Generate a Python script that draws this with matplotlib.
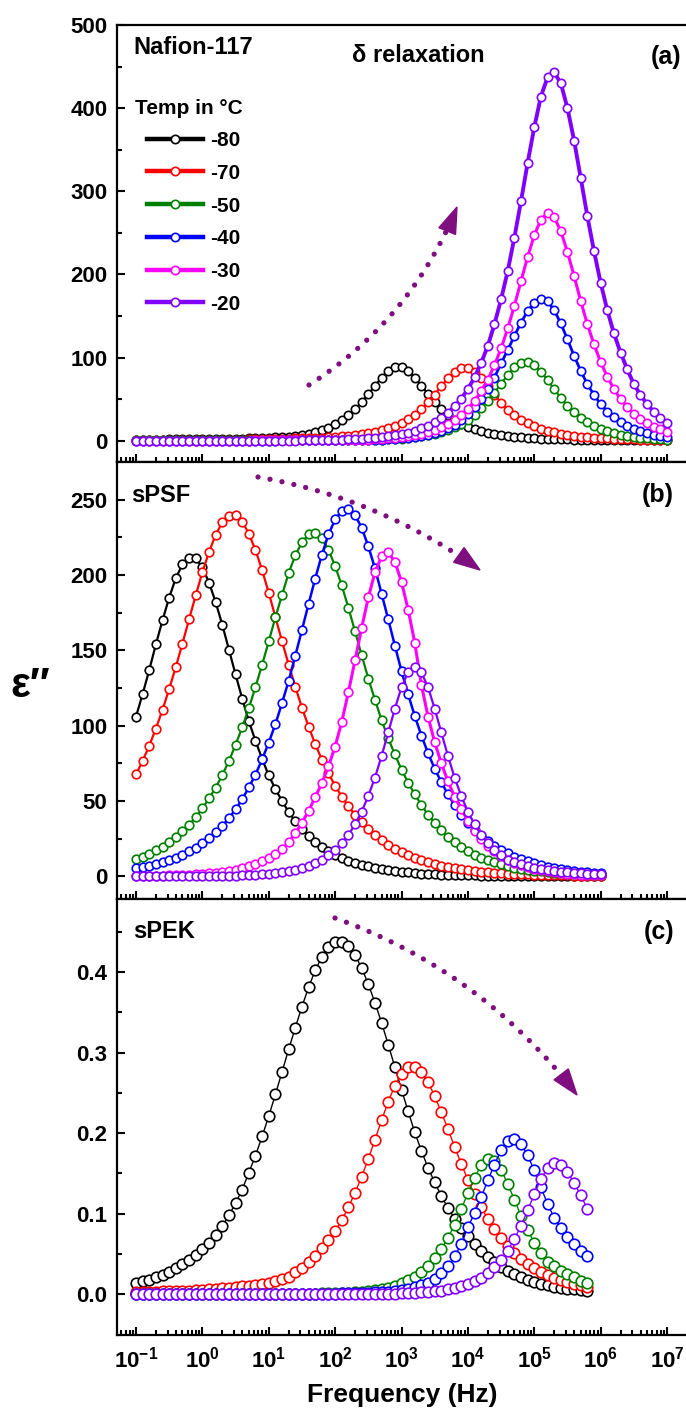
import matplotlib
matplotlib.use('Agg')
import matplotlib.pyplot as plt
import numpy as np
from matplotlib.lines import Line2D
from matplotlib.patches import Polygon
from matplotlib.ticker import MultipleLocator, LogLocator, NullFormatter, FormatStrFormatter

plt.rcParams['font.family'] = ['Liberation Sans', 'DejaVu Sans']
plt.rcParams['font.weight'] = 'bold'
plt.rcParams['mathtext.fontset'] = 'custom'
plt.rcParams['mathtext.rm'] = 'Liberation Sans:bold'
plt.rcParams['mathtext.bf'] = 'Liberation Sans:bold'

temps = ['-80', '-70', '-50', '-40', '-30', '-20']
colors = ['black', '#FF0000', '#008000', '#0000FF', '#FF00FF', '#8000FF']
arrow_color = '#7F0F7F'

# frequency sweeps (10 points per decade)
freq_a = np.logspace(-1, 7, 81)
freq_b = np.logspace(-1, 6, 71)
freq_c = np.logspace(-1, 5.8, 69)

# (a) Nafion-117, eps'' per temperature
nafion_m80 = [1.2, 1.3, 1.3, 1.4, 1.4, 1.5, 1.5, 1.6, 1.7, 1.8,
              1.9, 2.0, 2.1, 2.2, 2.3, 2.5, 2.6, 2.8, 3.0, 3.2,
              3.5, 3.9, 4.4, 5.0, 5.8, 6.8, 8.2, 10.0, 12.5, 15.8,
              19.8, 24.7, 30.7, 37.9, 46.5, 56.1, 66.3, 76.0, 83.9, 88.4,
              88.4, 83.9, 76.0, 66.3, 56.1, 46.5, 37.9, 30.7, 24.7, 20.5,
              17.0, 14.0, 11.5, 9.5, 7.8, 6.5, 5.5, 4.7, 4.0, 3.5,
              3.0, 2.6, 2.3, 2.0, 1.8, 1.6, 1.4, 1.3, 1.2, 1.1,
              1.0, 0.9, 0.9, 0.8, 0.8, 0.7, 0.7, 0.6, 0.6, 0.6, 0.5]
nafion_m70 = [0.4, 0.4, 0.5, 0.5, 0.5, 0.6, 0.6, 0.7, 0.7, 0.8,
              0.8, 0.9, 1.0, 1.1, 1.2, 1.3, 1.4, 1.5, 1.7, 1.9,
              2.0, 2.2, 2.4, 2.6, 2.8, 3.0, 3.2, 3.5, 3.8, 4.2,
              4.7, 5.3, 6.0, 6.8, 7.8, 9.0, 10.5, 12.5, 15.0, 18.0,
              21.5, 26.0, 31.5, 38.0, 46.0, 55.4, 65.6, 75.2, 83.0, 87.4,
              87.4, 83.0, 75.2, 65.6, 55.4, 45.9, 37.5, 31.0, 25.5, 21.0,
              17.5, 14.5, 12.0, 10.0, 8.4, 7.0, 5.9, 5.0, 4.2, 3.6,
              3.1, 2.7, 2.3, 2.0, 1.7, 1.5, 1.3, 1.1, 1.0, 0.9, 0.8]
nafion_m50 = [0.3, 0.3, 0.3, 0.3, 0.3, 0.3, 0.3, 0.3, 0.3, 0.4,
              0.4, 0.4, 0.4, 0.4, 0.5, 0.5, 0.5, 0.5, 0.5, 0.6,
              0.6, 0.6, 0.6, 0.7, 0.7, 0.7, 0.8, 0.8, 0.8, 0.9,
              0.9, 0.9, 1.0, 1.0, 1.0, 1.1, 1.2, 1.4, 1.7, 2.0,
              2.6, 3.2, 4.0, 5.1, 6.4, 8.1, 10.2, 12.8, 16.1, 20.1,
              25.2, 31.4, 38.9, 47.7, 57.8, 68.6, 79.2, 88.2, 93.8, 94.8,
              90.9, 83.1, 72.9, 62.0, 51.6, 42.3, 34.3, 27.6, 22.1, 17.7,
              14.0, 11.2, 8.9, 7.0, 5.6, 4.5, 3.5, 2.8, 2.2, 1.8, 1.4]
nafion_m40 = [0.1, 0.1, 0.1, 0.1, 0.1, 0.1, 0.1, 0.1, 0.1, 0.1,
              0.1, 0.1, 0.1, 0.1, 0.2, 0.2, 0.2, 0.2, 0.2, 0.2,
              0.2, 0.2, 0.3, 0.3, 0.3, 0.3, 0.4, 0.4, 0.4, 0.5,
              0.5, 0.6, 0.6, 0.7, 0.8, 0.9, 1.0, 1.3, 1.7, 2.1,
              2.7, 3.4, 4.3, 5.5, 7.0, 9.0, 11.5, 15.0, 19.5, 25.0,
              32.0, 40.0, 50.0, 62.0, 76.0, 93.0, 109, 126, 142, 156,
              166, 171, 168, 157, 141, 122, 102, 84, 68, 55,
              44, 35, 28, 22.6, 18, 14.2, 11.3, 9.0, 7.1, 5.7, 4.5]
nafion_m30 = [0.1, 0.1, 0.1, 0.1, 0.1, 0.1, 0.1, 0.1, 0.1, 0.1,
              0.1, 0.1, 0.1, 0.2, 0.2, 0.2, 0.2, 0.2, 0.3, 0.3,
              0.3, 0.3, 0.4, 0.4, 0.4, 0.5, 0.5, 0.5, 0.6, 0.6,
              0.6, 0.7, 0.7, 0.9, 1.1, 1.4, 1.8, 2.2, 2.7, 3.4,
              4.3, 5.3, 6.6, 8.3, 10.3, 12.9, 16.1, 20.0, 24.9, 31.0,
              38.6, 48.0, 59.5, 73.4, 90.7, 111, 135, 162, 192, 221,
              247, 266, 274, 269, 252, 227, 198, 168, 140, 116,
              94.5, 77, 62.2, 50.1, 40.3, 32.6, 26.1, 21.0, 16.9, 13.6, 10.9]
nafion_m20 = [0.2, 0.2, 0.2, 0.2, 0.2, 0.2, 0.2, 0.2, 0.2, 0.2,
              0.2, 0.2, 0.2, 0.2, 0.2, 0.2, 0.2, 0.2, 0.2, 0.2,
              0.2, 0.2, 0.2, 0.2, 0.2, 0.3, 0.4, 0.5, 0.6, 0.8,
              1.0, 1.2, 1.5, 1.8, 2.2, 2.8, 3.4, 4.2, 5.2, 6.4,
              7.9, 9.7, 11.9, 14.7, 18.1, 22.2, 27.2, 33.6, 41.2, 50.5,
              62, 76.2, 93.5, 114, 140, 170, 204, 244, 288, 334,
              377, 414, 437, 443, 430, 400, 361, 316, 270, 228,
              190, 157, 129, 106, 86, 68, 55, 44, 35, 27.5, 21.5]

# (b) sPSF
spsf_m80 = [106, 121, 137, 154, 170, 185, 198, 207, 211.6, 211,
            205, 195, 182, 167, 150.5, 134, 118, 103, 90, 78,
            67, 58, 50, 42.8, 36.6, 31.4, 26.9, 23, 19.7, 16.8,
            14.4, 12.3, 10.5, 9.0, 7.7, 6.6, 5.6, 4.8, 4.1, 3.5,
            3.0, 2.6, 2.2, 1.9, 1.6, 1.4, 1.2, 1.0, 0.9, 0.8,
            0.7, 0.6, 0.5, 0.5, 0.4, 0.4, 0.4, 0.3, 0.3, 0.3,
            0.3, 0.2, 0.2, 0.2, 0.2, 0.2, 0.2, 0.2, 0.2, 0.2, 0.2]
spsf_m70 = [67.7, 76.6, 86.8, 98.1, 110.6, 124.4, 139, 154.5, 170.7, 186.5,
            201.8, 215.3, 226.6, 234.9, 239.4, 239.6, 235.5, 227.5, 216.5, 203.3,
            188.2, 172.1, 156, 140.6, 125.8, 112, 99.4, 87.8, 77.5, 68.4,
            60.2, 53, 46.6, 40.8, 35.8, 31.2, 27.4, 23.9, 20.9, 18.4,
            16, 14, 12.3, 10.7, 9.4, 8.2, 7.2, 6.3, 5.5, 4.8,
            4.2, 3.7, 3.2, 2.8, 2.5, 2.2, 1.9, 1.7, 1.5, 1.3,
            1.1, 1.0, 0.9, 0.8, 0.7, 0.6, 0.5, 0.5, 0.4, 0.4, 0.3]
spsf_m50 = [11.4, 13.1, 15, 17.2, 19.8, 22.7, 26, 29.9, 34.3, 39.3,
            45.1, 51.7, 58.9, 67.2, 76.6, 87.3, 98.9, 111.7, 125.6, 140.4,
            156, 171.9, 186.7, 201.3, 213, 221.8, 226.9, 227.8, 224.3, 216.8,
            205.9, 193.1, 178.3, 162.6, 146.8, 131.3, 117.2, 103.7, 91.7, 80.9,
            70.9, 62.2, 54.5, 47.4, 41, 35.5, 30.5, 26.3, 22.7, 19.6,
            16.8, 14.5, 12.5, 10.8, 9.3, 8.0, 6.9, 5.9, 5.1, 4.4,
            3.8, 3.3, 2.8, 2.4, 2.1, 1.8, 1.5, 1.3, 1.1, 1.0, 0.8]
spsf_m40 = [5.3, 6.1, 7.0, 8.1, 9.3, 10.8, 12.4, 14.3, 16.6, 19.1,
            22, 25.4, 29.2, 33.6, 38.6, 44.4, 51.2, 59, 67.6, 77.6,
            88.8, 101, 115, 129.8, 146.4, 163.5, 180.8, 197.6, 213.5, 226.9,
            236.9, 242.8, 243.8, 239.8, 231.3, 219.1, 204.5, 187.6, 170.6, 153.2,
            136.2, 120.8, 106.4, 93.5, 81.7, 71.5, 62.5, 54.4, 47.3, 41,
            35.6, 31, 26.8, 23.3, 20.2, 17.5, 15.2, 13.2, 11.4, 9.9,
            8.6, 7.4, 6.4, 5.6, 4.9, 4.2, 3.7, 3.2, 2.8, 2.4, 2.1]
spsf_m30 = [0.2, 0.3, 0.3, 0.4, 0.5, 0.6, 0.7, 0.9, 1.1, 1.3,
            1.6, 2.0, 2.4, 3.0, 3.6, 4.4, 5.4, 6.6, 8.1, 9.9,
            12.1, 14.8, 18.3, 22.8, 28.5, 35.5, 43.5, 52.5, 62.0, 73.0,
            86.2, 102.6, 122.3, 143.4, 164.9, 185.1, 201.7, 212.3, 215, 208.9,
            195.4, 177, 155, 127, 106, 89, 75, 63, 53, 44.5,
            37, 30.3, 24.9, 20.4, 16.7, 13.7, 11.2, 9.2, 7.5, 6.2,
            5.0, 4.1, 3.4, 2.8, 2.3, 1.9, 1.5, 1.2, 1.0, 0.8, 0.7]
spsf_m20 = [0.1, 0.1, 0.1, 0.1, 0.1, 0.1, 0.1, 0.1, 0.2, 0.2,
            0.2, 0.2, 0.3, 0.35, 0.44, 0.55, 0.7, 0.9, 1.1, 1.4,
            1.75, 2.2, 2.8, 3.5, 4.4, 5.6, 7.0, 8.8, 11.0, 13.9,
            17.5, 22.0, 27.5, 34.5, 43, 53.4, 65.5, 79.9, 95.5, 111.3,
            125.5, 135.4, 139, 135.4, 125.5, 111.3, 95.5, 79.9, 65.5, 53.4,
            43, 34.5, 27.5, 22, 17.5, 13.9, 11.2, 9.5, 8.0, 6.8,
            5.8, 4.9, 4.2, 3.6, 3.1, 2.7, 2.4, 2.1, 1.9, 1.7, 1.5]

# (c) sPEK: no -30 run for this membrane
spek_m80 = [0.014, 0.016, 0.018, 0.021, 0.024, 0.028, 0.032, 0.037, 0.043, 0.049,
            0.056, 0.064, 0.074, 0.085, 0.098, 0.113, 0.130, 0.151, 0.172, 0.196,
            0.221, 0.248, 0.276, 0.304, 0.331, 0.357, 0.381, 0.402, 0.419, 0.431,
            0.437, 0.437, 0.432, 0.421, 0.405, 0.385, 0.362, 0.337, 0.310, 0.282,
            0.254, 0.227, 0.201, 0.178, 0.157, 0.139, 0.122, 0.107, 0.094, 0.082,
            0.072, 0.062, 0.054, 0.046, 0.040, 0.034, 0.029, 0.025, 0.021, 0.018,
            0.015, 0.013, 0.011, 0.0095, 0.008, 0.007, 0.006, 0.005, 0.0045]
spek_m70 = [0.003, 0.003, 0.0032, 0.0034, 0.0036, 0.0038, 0.004, 0.0043, 0.0046, 0.005,
            0.0054, 0.0059, 0.0065, 0.0072, 0.008, 0.0088, 0.0097, 0.0107, 0.0118, 0.013,
            0.0145, 0.0165, 0.019, 0.022, 0.027, 0.033, 0.040, 0.048, 0.057, 0.067,
            0.078, 0.092, 0.108, 0.126, 0.146, 0.168, 0.192, 0.216, 0.239, 0.259,
            0.274, 0.282, 0.282, 0.276, 0.263, 0.246, 0.226, 0.205, 0.183, 0.162,
            0.142, 0.124, 0.108, 0.0937, 0.0807, 0.0696, 0.060, 0.0512, 0.0441, 0.0379,
            0.0325, 0.0279, 0.0239, 0.0205, 0.0175, 0.0151, 0.0129, 0.011, 0.0095]
spek_m50 = [0.0003, 0.0003, 0.0003, 0.0003, 0.0003, 0.0003, 0.0003, 0.0004, 0.0004, 0.0004,
            0.0004, 0.0004, 0.0004, 0.0005, 0.0005, 0.0005, 0.0005, 0.0006, 0.0006, 0.0006,
            0.0006, 0.0007, 0.0007, 0.0007, 0.0008, 0.0008, 0.0008, 0.0009, 0.0010, 0.0011,
            0.0013, 0.0016, 0.002, 0.0025, 0.0032, 0.004, 0.0051, 0.0065, 0.0083, 0.0106,
            0.0134, 0.0171, 0.0218, 0.0276, 0.0351, 0.0444, 0.056, 0.0699, 0.0865, 0.1055,
            0.1258, 0.1448, 0.160, 0.1675, 0.1656, 0.1547, 0.137, 0.1176, 0.0976, 0.0796,
            0.0642, 0.0512, 0.0405, 0.035, 0.029, 0.025, 0.021, 0.017, 0.014]
spek_m40 = [0.0003, 0.0003, 0.0003, 0.0003, 0.0003, 0.0003, 0.0003, 0.0004, 0.0004, 0.0004,
            0.0004, 0.0004, 0.0005, 0.0005, 0.0005, 0.0005, 0.0006, 0.0006, 0.0006, 0.0006,
            0.0006, 0.0006, 0.0007, 0.0007, 0.0007, 0.0007, 0.0008, 0.0008, 0.0008, 0.0008,
            0.0009, 0.001, 0.0011, 0.0013, 0.0015, 0.0018, 0.0022, 0.0027, 0.0033, 0.0041,
            0.0052, 0.0066, 0.0085, 0.011, 0.014, 0.019, 0.026, 0.035, 0.047, 0.062,
            0.0832, 0.1006, 0.1203, 0.1413, 0.161, 0.179, 0.190, 0.1928, 0.1865, 0.1725,
            0.1538, 0.133, 0.1121, 0.095, 0.082, 0.071, 0.062, 0.054, 0.048]
spek_m20 = [0.0001, 0.0001, 0.0001, 0.0001, 0.0001, 0.0001, 0.0001, 0.0001, 0.0001, 0.0001,
            0.0001, 0.0001, 0.0001, 0.0002, 0.0002, 0.0002, 0.0002, 0.0002, 0.0003, 0.0003,
            0.0003, 0.0003, 0.0003, 0.0004, 0.0004, 0.0004, 0.0004, 0.0005, 0.0005, 0.0005,
            0.0005, 0.0006, 0.0006, 0.0006, 0.0007, 0.0007, 0.0007, 0.0008, 0.0008, 0.0009,
            0.001, 0.0013, 0.0017, 0.0022, 0.0028, 0.0036, 0.0046, 0.0059, 0.0076, 0.0098,
            0.0125, 0.016, 0.0205, 0.0262, 0.0336, 0.0429, 0.0543, 0.0683, 0.085, 0.104,
            0.124, 0.1431, 0.157, 0.163, 0.1603, 0.1516, 0.1383, 0.1228, 0.1063]

W, H = 686, 1411
fig = plt.figure(figsize=(W / 100, H / 100), dpi=100)


def make_axes(top, bottom):
    # panel placed in pixel units; right spine sits just past the canvas edge
    return fig.add_axes([117 / W, 1 - bottom / H, 571 / W, (bottom - top) / H])


ax_a = make_axes(25, 462)
ax_b = make_axes(462, 899)
ax_c = make_axes(899, 1335)

c_colors = [colors[i] for i in (0, 1, 2, 3, 5)]
panels = [
    (ax_a, freq_a, [nafion_m80, nafion_m70, nafion_m50, nafion_m40, nafion_m30, nafion_m20],
     colors, [1.5, 1.5, 1.5, 2.0, 2.2, 2.8], 6.0),
    (ax_b, freq_b, [spsf_m80, spsf_m70, spsf_m50, spsf_m40, spsf_m30, spsf_m20],
     colors, [1.6, 1.6, 1.6, 1.8, 2.2, 1.6], 6.2),
    (ax_c, freq_c, [spek_m80, spek_m70, spek_m50, spek_m40, spek_m20],
     c_colors, [1.0] * 5, 7.6),
]

for ax, freq, series, cols, lws, ms in panels:
    for vals, c, lw in zip(series, cols, lws):
        ax.plot(freq, vals, color=c, lw=lw, marker='o', ms=ms, mfc='white',
                mec=c, mew=1.2)
    ax.set_xscale('log')
    ax.set_xlim(10 ** -1.286, 10 ** 7.316)
    ax.xaxis.set_major_locator(LogLocator(base=10, numticks=20))
    ax.xaxis.set_minor_locator(LogLocator(base=10, subs=np.arange(2, 10), numticks=20))
    ax.xaxis.set_minor_formatter(NullFormatter())
    ax.tick_params(which='both', direction='in', top=False, right=False, width=1.5,
                   labelsize=16)
    ax.tick_params(which='major', length=6)
    ax.tick_params(which='minor', length=3.5)
    ax.tick_params(axis='y', pad=7)
    for side in ['left', 'bottom', 'top']:
        ax.spines[side].set_linewidth(1.6)
    ax.spines['right'].set_visible(False)

ax_a.set_ylim(-25.6, 500)
ax_a.yaxis.set_major_locator(MultipleLocator(100))
ax_a.yaxis.set_minor_locator(MultipleLocator(50))
ax_b.set_ylim(-15, 275)
ax_b.yaxis.set_major_locator(MultipleLocator(50))
ax_b.yaxis.set_minor_locator(MultipleLocator(25))
ax_c.set_ylim(-0.0506, 0.4907)
ax_c.yaxis.set_major_locator(MultipleLocator(0.1))
ax_c.yaxis.set_minor_locator(MultipleLocator(0.05))
ax_c.yaxis.set_major_formatter(FormatStrFormatter('%.1f'))

ax_a.tick_params(axis='x', labelbottom=False)
ax_b.tick_params(axis='x', labelbottom=False)
exps = list(range(-1, 8))
ax_c.set_xticks([10.0 ** k for k in exps])
ax_c.set_xticklabels([r'$\mathbf{10^{%d}}$' % k for k in exps])
ax_c.tick_params(axis='x', pad=8)
ax_c.set_xlabel('Frequency (Hz)', fontsize=19, fontweight='bold', labelpad=8)

fig.text(30 / W, 1 - 686 / H, 'ε″', fontsize=30, fontweight='bold',
         ha='center', va='center')


# panel annotations
def px_text(x, y, s, size, ha='left'):
    fig.text(x / W, 1 - y / H, s, fontsize=size, fontweight='bold', ha=ha, va='center')


px_text(133, 47, 'Nafion-117', 17)
px_text(418, 56, 'δ relaxation', 17, ha='center')
px_text(681, 57, '(a)', 18, ha='right')
px_text(131, 495, 'sPSF', 17)
px_text(674, 495, '(b)', 18, ha='right')
px_text(133, 932, 'sPEK', 17)
px_text(674, 932, '(c)', 18, ha='right')
px_text(135, 108, 'Temp in °C', 15)

handles = [Line2D([], [], color=c, lw=3.2, marker='o', ms=6, mfc='white', mec=c, mew=1.2)
           for c in colors]
ax_a.legend(handles, temps, loc='upper left', bbox_to_anchor=(147 / W, 1 - 131 / H),
            bbox_transform=fig.transFigure, frameon=False, fontsize=15,
            handlelength=2.7, handletextpad=0.35, labelspacing=0.66,
            borderpad=0, borderaxespad=0)


# curved dotted arrows (quadratic Bezier in pixel space)
def dotted_arrow(p0, ctrl, tip, head_len=26, head_w=18):
    p0, ctrl, tip = np.array(p0, float), np.array(ctrl, float), np.array(tip, float)
    d = tip - ctrl
    d /= np.hypot(*d)
    base = tip - head_len * d
    t = np.linspace(0, 1, 200)[:, None]
    pts = (1 - t) ** 2 * p0 + 2 * t * (1 - t) * ctrl + t ** 2 * tip
    keep = np.hypot(*(pts - tip).T) > head_len * 0.9
    pts = pts[keep]
    fig.add_artist(Line2D(pts[:, 0] / W, 1 - pts[:, 1] / H, transform=fig.transFigure,
                          color=arrow_color, lw=3.8, linestyle=(0, (0.01, 2.3)),
                          dash_capstyle='round'))
    n = np.array([-d[1], d[0]])
    tri = np.array([tip, base + n * head_w / 2, base - n * head_w / 2])
    tri[:, 0] /= W
    tri[:, 1] = 1 - tri[:, 1] / H
    fig.add_artist(Polygon(tri, closed=True, transform=fig.transFigure,
                           facecolor=arrow_color, edgecolor=arrow_color))


dotted_arrow((309, 385), (411, 320), (457, 207))
dotted_arrow((258, 477), (379, 498), (480, 570))
dotted_arrow((335, 918), (482, 971), (577, 1095))

fig.savefig('out.png', dpi=100)
